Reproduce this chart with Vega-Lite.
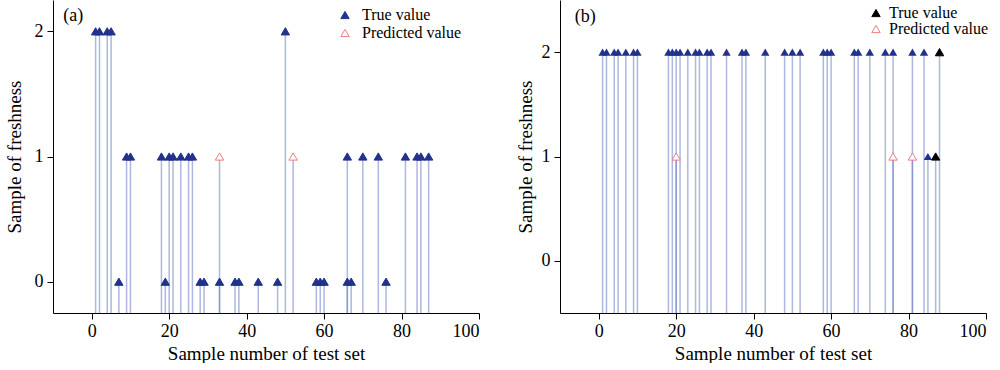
{
  "$schema": "https://vega.github.io/schema/vega-lite/v6.json",
  "padding": {"left": 5, "top": 0, "right": 0, "bottom": 0},
  "background": "white",
  "spacing": 81,
  "bounds": "flush",
  "config": {
    "view": {"stroke": null},
    "font": "Liberation Serif",
    "axis": {
      "domainColor": "black", "tickColor": "black", "labelColor": "black", "titleColor": "black",
      "grid": false, "tickSize": 6, "labelFont": "Liberation Serif", "titleFont": "Liberation Serif",
      "labelFontSize": 18, "titleFontSize": 19, "titleFontWeight": "normal", "domainWidth": 1, "tickWidth": 1
    },
    "legend": {
      "labelFont": "Liberation Serif", "labelFontSize": 16, "labelColor": "black",
      "symbolType": "triangle-up", "symbolSize": 70, "symbolStrokeWidth": 1, "padding": 0
    }
  },
  "datasets": {
    "a": [
      {"n": 1, "v": 2, "series": "True value"},
      {"n": 2, "v": 2, "series": "True value"},
      {"n": 4, "v": 2, "series": "True value"},
      {"n": 5, "v": 2, "series": "True value"},
      {"n": 7, "v": 0, "series": "True value"},
      {"n": 9, "v": 1, "series": "True value"},
      {"n": 10, "v": 1, "series": "True value"},
      {"n": 18, "v": 1, "series": "True value"},
      {"n": 19, "v": 0, "series": "True value"},
      {"n": 20, "v": 1, "series": "True value"},
      {"n": 21, "v": 1, "series": "True value"},
      {"n": 23, "v": 1, "series": "True value"},
      {"n": 25, "v": 1, "series": "True value"},
      {"n": 26, "v": 1, "series": "True value"},
      {"n": 28, "v": 0, "series": "True value"},
      {"n": 29, "v": 0, "series": "True value"},
      {"n": 33, "v": 0, "series": "True value"},
      {"n": 37, "v": 0, "series": "True value"},
      {"n": 38, "v": 0, "series": "True value"},
      {"n": 43, "v": 0, "series": "True value"},
      {"n": 48, "v": 0, "series": "True value"},
      {"n": 50, "v": 2, "series": "True value"},
      {"n": 58, "v": 0, "series": "True value"},
      {"n": 59, "v": 0, "series": "True value"},
      {"n": 60, "v": 0, "series": "True value"},
      {"n": 66, "v": 1, "series": "True value"},
      {"n": 66, "v": 0, "series": "True value"},
      {"n": 67, "v": 0, "series": "True value"},
      {"n": 70, "v": 1, "series": "True value"},
      {"n": 74, "v": 1, "series": "True value"},
      {"n": 76, "v": 0, "series": "True value"},
      {"n": 81, "v": 1, "series": "True value"},
      {"n": 84, "v": 1, "series": "True value"},
      {"n": 85, "v": 1, "series": "True value"},
      {"n": 87, "v": 1, "series": "True value"},
      {"n": 33, "v": 1, "series": "Predicted value"},
      {"n": 52, "v": 1, "series": "Predicted value"}
    ],
    "b": [
      {"n": 1, "v": 2, "series": "True value", "batch": 1},
      {"n": 2, "v": 2, "series": "True value", "batch": 1},
      {"n": 4, "v": 2, "series": "True value", "batch": 1},
      {"n": 5, "v": 2, "series": "True value", "batch": 1},
      {"n": 7, "v": 2, "series": "True value", "batch": 1},
      {"n": 9, "v": 2, "series": "True value", "batch": 1},
      {"n": 10, "v": 2, "series": "True value", "batch": 1},
      {"n": 18, "v": 2, "series": "True value", "batch": 1},
      {"n": 19, "v": 2, "series": "True value", "batch": 1},
      {"n": 20, "v": 2, "series": "True value", "batch": 1},
      {"n": 21, "v": 2, "series": "True value", "batch": 1},
      {"n": 23, "v": 2, "series": "True value", "batch": 1},
      {"n": 25, "v": 2, "series": "True value", "batch": 1},
      {"n": 26, "v": 2, "series": "True value", "batch": 1},
      {"n": 28, "v": 2, "series": "True value", "batch": 1},
      {"n": 29, "v": 2, "series": "True value", "batch": 1},
      {"n": 33, "v": 2, "series": "True value", "batch": 1},
      {"n": 37, "v": 2, "series": "True value", "batch": 1},
      {"n": 38, "v": 2, "series": "True value", "batch": 1},
      {"n": 43, "v": 2, "series": "True value", "batch": 1},
      {"n": 48, "v": 2, "series": "True value", "batch": 1},
      {"n": 50, "v": 2, "series": "True value", "batch": 1},
      {"n": 52, "v": 2, "series": "True value", "batch": 1},
      {"n": 58, "v": 2, "series": "True value", "batch": 1},
      {"n": 59, "v": 2, "series": "True value", "batch": 1},
      {"n": 60, "v": 2, "series": "True value", "batch": 1},
      {"n": 66, "v": 2, "series": "True value", "batch": 1},
      {"n": 67, "v": 2, "series": "True value", "batch": 1},
      {"n": 70, "v": 2, "series": "True value", "batch": 1},
      {"n": 74, "v": 2, "series": "True value", "batch": 1},
      {"n": 76, "v": 2, "series": "True value", "batch": 1},
      {"n": 81, "v": 2, "series": "True value", "batch": 1},
      {"n": 84, "v": 2, "series": "True value", "batch": 1},
      {"n": 85, "v": 1, "series": "True value", "batch": 1},
      {"n": 87, "v": 1, "series": "True value", "batch": 2},
      {"n": 88, "v": 2, "series": "True value", "batch": 2},
      {"n": 20, "v": 1, "series": "Predicted value", "batch": 1},
      {"n": 76, "v": 1, "series": "Predicted value", "batch": 1},
      {"n": 81, "v": 1, "series": "Predicted value", "batch": 1}
    ]
  },
  "hconcat": [
    {
      "width": 426, "height": 313,
      "data": {"name": "a"},
      "layer": [
        {
          "mark": {"type": "rule", "color": "#6c7cc4", "opacity": 0.55, "strokeWidth": 1.5},
          "encoding": {
            "x": {"field": "n", "type": "quantitative", "scale": {"domain": [-10, 100], "nice": false, "zero": false},
                  "axis": {"values": [0, 20, 40, 60, 80, 100], "title": "Sample number of test set", "labelPadding": 3, "titlePadding": 4}},
            "y": {"field": "v", "type": "quantitative", "scale": {"domain": [-0.25, 2.25], "nice": false, "zero": false},
                  "axis": {"values": [0, 1, 2], "format": "d", "title": "Sample of freshness", "labelPadding": 4, "titlePadding": 10}},
            "y2": {"datum": -0.25}
          }
        },
        {
          "mark": {"type": "point", "shape": "triangle-up", "size": 70, "opacity": 1, "strokeWidth": 1},
          "encoding": {
            "x": {"field": "n", "type": "quantitative"},
            "y": {"field": "v", "type": "quantitative"},
            "fill": {"field": "series", "type": "nominal",
                     "scale": {"domain": ["True value", "Predicted value"], "range": ["#22328c", "#ffffff"]},
                     "legend": {"title": null, "orient": "none", "legendX": 284, "legendY": 7, "rowPadding": 2, "labelOffset": 9}},
            "stroke": {"field": "series", "type": "nominal",
                     "scale": {"domain": ["True value", "Predicted value"], "range": ["#22328c", "#f07c84"]},
                     "legend": {"title": null, "orient": "none", "legendX": 284, "legendY": 7, "rowPadding": 2, "labelOffset": 9}}
          }
        },
        {
          "data": {"values": [{}]},
          "mark": {"type": "text", "fontSize": 18, "font": "Liberation Serif", "color": "black"},
          "encoding": {
            "x": {"datum": -4.8, "type": "quantitative"},
            "y": {"datum": 2.12, "type": "quantitative"},
            "text": {"value": "(a)"}
          }
        }
      ]
    },
    {
      "width": 426, "height": 313,
      "data": {"name": "b"},
      "layer": [
        {
          "mark": {"type": "rule", "color": "#6c7cc4", "opacity": 0.55, "strokeWidth": 1.5},
          "encoding": {
            "x": {"field": "n", "type": "quantitative", "scale": {"domain": [-10, 100], "nice": false, "zero": false},
                  "axis": {"values": [0, 20, 40, 60, 80, 100], "title": "Sample number of test set", "labelPadding": 3, "titlePadding": 4}},
            "y": {"field": "v", "type": "quantitative", "scale": {"domain": [-0.5, 2.5], "nice": false, "zero": false},
                  "axis": {"values": [0, 1, 2], "format": "d", "title": "Sample of freshness", "labelPadding": 4, "titlePadding": 6}},
            "y2": {"datum": -0.5}
          }
        },
        {
          "transform": [{"filter": "datum.batch == 1 && datum.series == 'True value'"}],
          "mark": {"type": "point", "shape": "triangle-up", "size": 70, "opacity": 1, "filled": true, "color": "#22328c"},
          "encoding": {
            "x": {"field": "n", "type": "quantitative"},
            "y": {"field": "v", "type": "quantitative"}
          }
        },
        {
          "transform": [{"filter": "datum.batch == 2 || datum.series == 'Predicted value'"}],
          "mark": {"type": "point", "shape": "triangle-up", "size": 70, "opacity": 1, "strokeWidth": 1},
          "encoding": {
            "x": {"field": "n", "type": "quantitative"},
            "y": {"field": "v", "type": "quantitative"},
            "fill": {"field": "series", "type": "nominal",
                     "scale": {"domain": ["True value", "Predicted value"], "range": ["#000000", "#ffffff"]},
                     "legend": {"title": null, "orient": "none", "legendX": 308, "legendY": 5, "rowPadding": -2, "labelOffset": 5}},
            "stroke": {"field": "series", "type": "nominal",
                     "scale": {"domain": ["True value", "Predicted value"], "range": ["#000000", "#f07c84"]},
                     "legend": {"title": null, "orient": "none", "legendX": 308, "legendY": 5, "rowPadding": -2, "labelOffset": 5}}
          }
        },
        {
          "data": {"values": [{}]},
          "mark": {"type": "text", "fontSize": 18, "font": "Liberation Serif", "color": "black"},
          "encoding": {
            "x": {"datum": -3.5, "type": "quantitative"},
            "y": {"datum": 2.34, "type": "quantitative"},
            "text": {"value": "(b)"}
          }
        }
      ]
    }
  ],
  "resolve": {
    "scale": {"fill": "independent", "stroke": "independent", "x": "independent", "y": "independent"},
    "legend": {"fill": "independent", "stroke": "independent"}
  }
}
